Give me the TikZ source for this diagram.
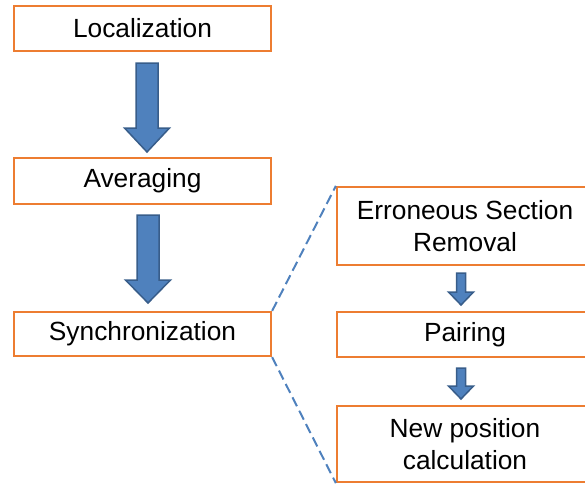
\documentclass[tikz,border=0pt]{standalone}
\usepackage{fontspec}
\setmainfont{Liberation Sans}
\begin{document}
\definecolor{boxorange}{HTML}{ED7D31}
\definecolor{arrowfill}{HTML}{4F81BD}
\definecolor{arrowedge}{HTML}{385D8A}
\newcommand\blockdown[6]{% x, top y, tip y, shaft half-width, head half-width, head length
  \draw[blockarrow] ({#1-#4},#2) -- ({#1+#4},#2) -- ({#1+#4},{#3-#6}) -- ({#1+#5},{#3-#6})
    -- (#1,#3) -- ({#1-#5},{#3-#6}) -- ({#1-#4},{#3-#6}) -- cycle;}
\begin{tikzpicture}[x=1pt,y=-1pt,
  stepbox/.style={draw=boxorange, line width=2.3pt, fill=white, inner sep=0pt,
    align=center, font=\fontsize{26.3}{32}\selectfont},
  blockarrow/.style={fill=arrowfill, draw=arrowedge, line width=1.5pt, line join=miter},
  zoomline/.style={draw=arrowfill, line width=2pt, dash pattern=on 10pt off 5pt}]
\useasboundingbox (0,0) rectangle (585,483);
\begin{scope}
\clip (0,0) rectangle (585,483);
% main pipeline
\node[stepbox, minimum width=257pt, minimum height=45pt] (loc) at (142.5,28.5) {Localization};
\node[stepbox, minimum width=257pt, minimum height=46pt] (avg) at (142.5,181) {Averaging};
\node[stepbox, minimum width=257pt, minimum height=44pt] (sync) at (142.5,334) {Synchronization};
% detail of the synchronization step
\node[stepbox, minimum width=256pt, minimum height=78pt] (err) at (465,226) {Erroneous Section\\Removal};
\node[stepbox, minimum width=256pt, minimum height=45pt] (pair) at (465,334.5) {Pairing};
\node[stepbox, minimum width=256pt, minimum height=76pt] (newpos) at (465,444) {New position\\calculation};
% zoom lines
\draw[zoomline] (sync.north east) -- (err.north west);
\draw[zoomline] (sync.south east) -- (newpos.south west);
% block arrows
\blockdown{147}{63}{152}{11}{22.5}{24}
\blockdown{148}{215}{303}{11}{22.5}{23}
\blockdown{461}{273}{305}{4.5}{12.5}{13}
\blockdown{461}{368}{399}{4.5}{12.5}{13}
\end{scope}
\end{tikzpicture}
\end{document}
